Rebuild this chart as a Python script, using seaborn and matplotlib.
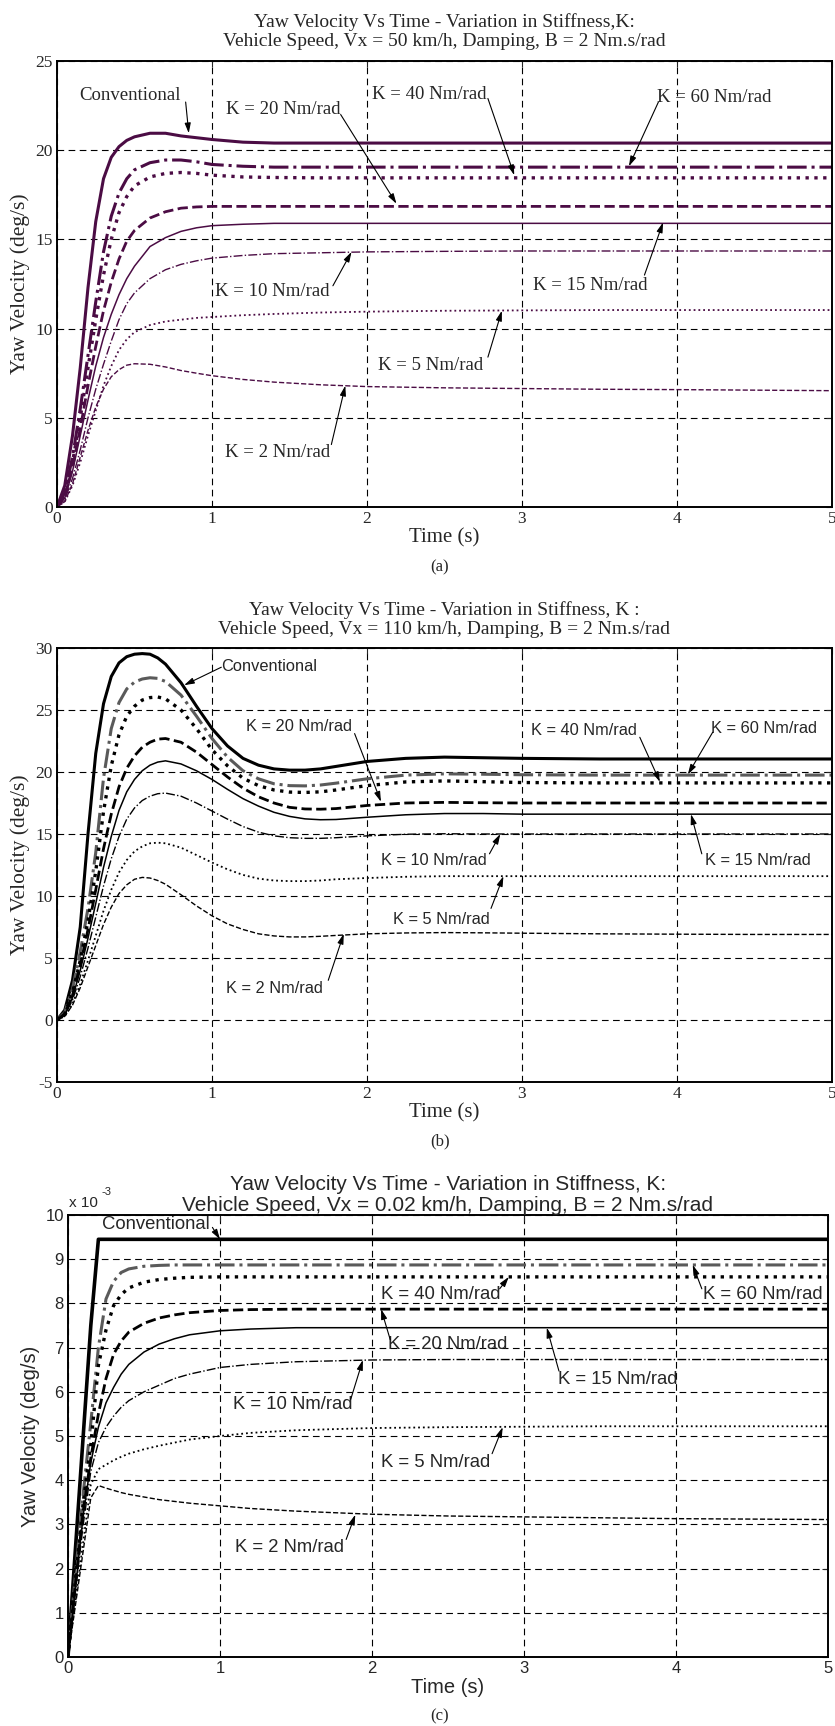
import matplotlib
matplotlib.use('Agg')
import matplotlib.pyplot as plt
import seaborn as sns

sns.set_style('white')
plt.rcParams['font.family'] = ['Liberation Serif', 'DejaVu Serif']
plt.rcParams['axes.unicode_minus'] = False

# ---------------- data ----------------
names = ['Conventional', 'K = 60', 'K = 40', 'K = 20', 'K = 15', 'K = 10', 'K = 5', 'K = 2']

# (a) Vx = 50 km/h
t_a = [0, 0.05, 0.1, 0.15, 0.2, 0.25, 0.3, 0.35, 0.4, 0.45, 0.5, 0.6, 0.7, 0.8, 0.9, 1.0,
       1.2, 1.4, 1.7, 2.0, 2.5, 3.0, 3.5, 4.0, 4.5, 5.0]
a_conv = [0, 1.2, 4.0, 7.8, 12.3, 16.0, 18.4, 19.6, 20.2, 20.55, 20.75, 20.95, 20.95, 20.8, 20.7, 20.6,
          20.45, 20.4, 20.4, 20.4, 20.4, 20.4, 20.4, 20.4, 20.4, 20.4]
a_k60 = [0, 0.8, 2.8, 5.5, 8.5, 11.5, 14.3, 16.3, 17.6, 18.4, 18.9, 19.3, 19.45, 19.45, 19.35, 19.2,
         19.1, 19.05, 19.05, 19.05, 19.05, 19.05, 19.05, 19.05, 19.05, 19.05]
a_k40 = [0, 0.7, 2.5, 5.0, 7.8, 10.5, 13.0, 15.0, 16.5, 17.4, 18.0, 18.5, 18.7, 18.75, 18.7, 18.6,
         18.5, 18.47, 18.45, 18.45, 18.45, 18.45, 18.45, 18.45, 18.45, 18.45]
a_k20 = [0, 0.6, 2.2, 4.4, 6.8, 9.0, 11.0, 12.6, 13.9, 14.9, 15.5, 16.2, 16.55, 16.75, 16.82, 16.85,
         16.85, 16.85, 16.85, 16.85, 16.85, 16.85, 16.85, 16.85, 16.85, 16.85]
a_k15 = [0, 0.5, 2.0, 4.0, 6.0, 7.9, 9.5, 10.8, 11.9, 12.8, 13.5, 14.6, 15.1, 15.45, 15.65, 15.77,
         15.85, 15.9, 15.9, 15.9, 15.9, 15.9, 15.9, 15.9, 15.9, 15.9]
a_k10 = [0, 0.4, 1.6, 3.2, 5.0, 6.6, 8.0, 9.3, 10.5, 11.4, 12.0, 12.8, 13.3, 13.6, 13.8, 13.95,
         14.1, 14.2, 14.25, 14.3, 14.33, 14.35, 14.35, 14.35, 14.35, 14.35]
a_k5 = [0, 0.3, 1.2, 2.5, 4.0, 5.4, 6.8, 7.9, 8.8, 9.4, 9.8, 10.2, 10.4, 10.5, 10.6, 10.65,
        10.75, 10.82, 10.9, 10.95, 11.0, 11.02, 11.04, 11.04, 11.04, 11.04]
a_k2 = [0, 0.3, 1.3, 2.8, 4.3, 5.6, 6.6, 7.3, 7.7, 7.95, 8.03, 8.0, 7.85, 7.65, 7.5, 7.36,
        7.15, 7.0, 6.85, 6.75, 6.68, 6.64, 6.6, 6.58, 6.55, 6.52]

# (b) Vx = 110 km/h
t_b = [0, 0.05, 0.1, 0.15, 0.2, 0.25, 0.3, 0.35, 0.4, 0.45, 0.5, 0.55, 0.6, 0.65, 0.7, 0.8, 0.9,
       1.0, 1.1, 1.2, 1.3, 1.4, 1.5, 1.6, 1.7, 1.8, 2.0, 2.25, 2.5, 2.75, 3.0, 3.5, 4.0, 4.5, 5.0]
b_conv = [0, 0.8, 3.2, 7.5, 15.0, 21.5, 25.5, 27.7, 28.8, 29.3, 29.5, 29.55, 29.5, 29.2, 28.7, 27.2, 25.3,
          23.5, 22.1, 21.1, 20.55, 20.25, 20.15, 20.15, 20.25, 20.45, 20.85, 21.1, 21.2, 21.15, 21.1,
          21.05, 21.05, 21.05, 21.05]
b_k60 = [0, 0.6, 2.5, 5.5, 9.0, 13.5, 19.5, 23.5, 25.6, 26.7, 27.25, 27.5, 27.6, 27.55, 27.3, 26.2, 24.5,
         22.7, 21.2, 20.1, 19.45, 19.05, 18.9, 18.88, 18.95, 19.1, 19.45, 19.75, 19.85, 19.82, 19.78,
         19.75, 19.75, 19.75, 19.75]
b_k40 = [0, 0.5, 2.2, 4.8, 8.0, 12.0, 16.8, 20.5, 23.0, 24.5, 25.3, 25.8, 26.0, 26.05, 25.9, 25.0, 23.5,
         21.8, 20.5, 19.5, 18.9, 18.55, 18.38, 18.35, 18.4, 18.55, 18.9, 19.2, 19.28, 19.22, 19.15,
         19.12, 19.12, 19.12, 19.12]
b_k20 = [0, 0.5, 2.0, 4.4, 7.3, 10.5, 13.8, 16.6, 18.8, 20.3, 21.3, 22.0, 22.4, 22.65, 22.7, 22.4, 21.6,
         20.6, 19.6, 18.7, 18.0, 17.5, 17.15, 17.02, 17.0, 17.05, 17.3, 17.5, 17.55, 17.52, 17.5,
         17.5, 17.5, 17.5, 17.5]
b_k15 = [0, 0.4, 1.8, 4.0, 6.6, 9.4, 12.3, 14.8, 16.9, 18.4, 19.4, 20.1, 20.55, 20.8, 20.9, 20.65, 20.1,
         19.4, 18.6, 17.85, 17.25, 16.75, 16.42, 16.22, 16.15, 16.17, 16.35, 16.55, 16.65, 16.65, 16.6,
         16.6, 16.6, 16.6, 16.6]
b_k10 = [0, 0.4, 1.6, 3.5, 5.8, 8.3, 10.8, 13.0, 14.8, 16.2, 17.1, 17.7, 18.05, 18.25, 18.3, 18.05, 17.5,
         16.85, 16.2, 15.6, 15.15, 14.85, 14.7, 14.65, 14.65, 14.7, 14.85, 14.98, 15.02, 15.0, 15.0,
         15.0, 15.0, 15.0, 15.0]
b_k5 = [0, 0.3, 1.3, 2.9, 4.8, 6.8, 8.8, 10.5, 11.9, 12.9, 13.6, 14.0, 14.25, 14.3, 14.25, 13.9, 13.3,
        12.7, 12.15, 11.7, 11.4, 11.25, 11.2, 11.2, 11.25, 11.35, 11.45, 11.55, 11.6, 11.6, 11.6,
        11.6, 11.6, 11.6, 11.6]
b_k2 = [0, 0.3, 1.2, 2.6, 4.3, 6.0, 7.7, 9.1, 10.2, 10.9, 11.35, 11.5, 11.45, 11.25, 10.95, 10.1, 9.2,
        8.4, 7.75, 7.3, 6.95, 6.78, 6.7, 6.7, 6.75, 6.82, 6.95, 7.02, 7.05, 7.03, 7.0,
        6.95, 6.92, 6.9, 6.9]

# (c) Vx = 0.02 km/h  (values in 1e-3 deg/s)
t_c = [0, 0.05, 0.1, 0.15, 0.2, 0.25, 0.3, 0.35, 0.4, 0.5, 0.6, 0.7, 0.8, 1.0, 1.2, 1.5,
       2.0, 2.5, 3.0, 3.5, 4.0, 4.5, 5.0]
c_conv = [0, 2.5, 5.0, 7.5, 9.45, 9.45, 9.45, 9.45, 9.45, 9.45, 9.45, 9.45, 9.45, 9.45, 9.45, 9.45,
          9.45, 9.45, 9.45, 9.45, 9.45, 9.45, 9.45]
c_k60 = [0, 1.9, 3.7, 5.3, 7.0, 8.1, 8.5, 8.7, 8.78, 8.84, 8.86, 8.87, 8.87, 8.87, 8.87, 8.87,
         8.87, 8.87, 8.87, 8.87, 8.87, 8.87, 8.87]
c_k40 = [0, 1.8, 3.5, 4.8, 6.6, 7.4, 7.95, 8.2, 8.35, 8.48, 8.54, 8.57, 8.59, 8.6, 8.6, 8.6,
         8.6, 8.6, 8.6, 8.6, 8.6, 8.6, 8.6]
c_k20 = [0, 1.7, 3.3, 4.5, 5.5, 6.3, 6.85, 7.15, 7.35, 7.55, 7.67, 7.74, 7.79, 7.84, 7.86, 7.87,
         7.87, 7.87, 7.87, 7.87, 7.87, 7.87, 7.87]
c_k15 = [0, 1.6, 3.2, 4.4, 5.2, 5.75, 6.1, 6.4, 6.62, 6.9, 7.08, 7.2, 7.29, 7.38, 7.42, 7.45,
         7.45, 7.45, 7.45, 7.45, 7.45, 7.45, 7.45]
c_k10 = [0, 1.5, 3.0, 4.2, 4.85, 5.2, 5.45, 5.65, 5.8, 6.0, 6.15, 6.3, 6.4, 6.55, 6.62, 6.68,
         6.72, 6.73, 6.73, 6.73, 6.73, 6.73, 6.73]
c_k5 = [0, 1.3, 2.6, 3.9, 4.25, 4.35, 4.45, 4.53, 4.6, 4.7, 4.78, 4.85, 4.92, 5.0, 5.07, 5.13,
        5.18, 5.2, 5.21, 5.22, 5.22, 5.22, 5.22]
c_k2 = [0, 1.2, 2.4, 3.6, 3.88, 3.82, 3.77, 3.72, 3.68, 3.62, 3.56, 3.52, 3.48, 3.42, 3.36, 3.3,
        3.23, 3.19, 3.17, 3.15, 3.13, 3.12, 3.11]

# annotations: label, text (t, v), arrow tail, arrow head
notes_a = [('Conventional', (0.47, 23.05), (0.83, 22.7), (0.85, 20.95)),
           ('K = 20 Nm/rad', (1.46, 22.3), (1.83, 22.0), (2.19, 17.0)),
           ('K = 40 Nm/rad', (2.40, 23.1), (2.78, 22.9), (2.95, 18.6)),
           ('K = 60 Nm/rad', (4.24, 22.95), (3.88, 22.7), (3.69, 19.1)),
           ('K = 15 Nm/rad', (3.44, 12.4), (3.79, 13.0), (3.91, 15.95)),
           ('K = 10 Nm/rad', (1.39, 12.1), (1.78, 12.4), (1.90, 14.3)),
           ('K = 5 Nm/rad', (2.41, 7.95), (2.78, 8.4), (2.87, 11.0)),
           ('K = 2 Nm/rad', (1.42, 3.05), (1.77, 3.5), (1.86, 6.8))]
notes_b = [('Conventional', (1.37, 28.5), (1.06, 28.45), (0.82, 27.0)),
           ('K = 20 Nm/rad', (1.56, 23.65), (1.92, 23.1), (2.09, 17.6)),
           ('K = 40 Nm/rad', (3.40, 23.35), (3.76, 22.8), (3.89, 19.2)),
           ('K = 60 Nm/rad', (4.56, 23.5), (4.23, 23.2), (4.07, 19.8)),
           ('K = 10 Nm/rad', (2.43, 12.85), (2.79, 13.4), (2.86, 15.0)),
           ('K = 15 Nm/rad', (4.52, 12.85), (4.16, 13.4), (4.09, 16.6)),
           ('K = 5 Nm/rad', (2.48, 8.1), (2.80, 9.0), (2.88, 11.6)),
           ('K = 2 Nm/rad', (1.40, 2.55), (1.75, 3.2), (1.85, 6.95))]
notes_c = [('Conventional', (0.58, 9.79), (0.95, 9.72), (1.00, 9.45)),
           ('K = 40 Nm/rad', (2.45, 8.2), (2.84, 8.33), (2.90, 8.6)),
           ('K = 60 Nm/rad', (4.57, 8.2), (4.17, 8.33), (4.11, 8.87)),
           ('K = 20 Nm/rad', (2.50, 7.06), (2.12, 7.18), (2.06, 7.87)),
           ('K = 15 Nm/rad', (3.62, 6.27), (3.23, 6.47), (3.15, 7.45)),
           ('K = 10 Nm/rad', (1.48, 5.71), (1.86, 5.83), (1.94, 6.72)),
           ('K = 5 Nm/rad', (2.42, 4.41), (2.79, 4.6), (2.86, 5.2)),
           ('K = 2 Nm/rad', (1.46, 2.47), (1.83, 2.66), (1.89, 3.22))]

title_a = 'Yaw Velocity Vs Time - Variation in Stiffness,K:\nVehicle Speed, Vx = 50 km/h, Damping, B = 2 Nm.s/rad'
title_b = 'Yaw Velocity Vs Time - Variation in Stiffness, K :\nVehicle Speed, Vx = 110 km/h, Damping, B = 2 Nm.s/rad'
title_c = 'Yaw Velocity Vs Time - Variation in Stiffness, K:\nVehicle Speed, Vx = 0.02 km/h, Damping, B = 2 Nm.s/rad'

# line style of each curve (same order as names)
styles = [('-', 2.2), ('-.', 2.2), (':', 2.4), ('--', 2.0), ('-', 1.1), ('-.', 1.0), (':', 1.3), ('--', 1.0)]

PURPLE = '#4b0c44'
GRAY = '#5a5a5a'

W, H = 835, 1726
fig = plt.figure(figsize=(W / 100, H / 100), dpi=100)


def box(l, t, r, b):
    return [l / W, 1 - b / H, (r - l) / W, (b - t) / H]


def draw(ax, t, curves, colors, notes, title, ylim, yticks, font, sizes, pad):
    fs_tick, fs_note, fs_title, fs_xlab, fs_ylab = sizes
    for vals, col, (ls, lw) in zip(curves, colors, styles):
        sns.lineplot(x=t, y=vals, ax=ax, color=col, linestyle=ls, linewidth=lw)
    ax.set_xlim(0, 5)
    ax.set_ylim(*ylim)
    ax.set_xticks(range(6))
    ax.set_yticks(yticks)
    ax.grid(True, color='black', linestyle=(0, (6, 4)), linewidth=0.8)
    for s in ax.spines.values():
        s.set_color('black')
        s.set_linewidth(1.4)
    ax.tick_params(direction='in', top=True, right=True, length=4, width=0.8,
                   labelsize=fs_tick, pad=3)
    for lab in ax.get_xticklabels() + ax.get_yticklabels():
        lab.set_family(font)
    ax.set_xlabel('Time (s)', family=font, fontsize=fs_xlab, labelpad=1)
    ax.set_ylabel('Yaw Velocity (deg/s)', family=font, fontsize=fs_ylab, labelpad=4)
    ax.set_title(title, family=font, fontsize=fs_title, pad=pad, linespacing=1.15)
    for lab, txt, tail, head in notes:
        ax.text(txt[0], txt[1], lab, ha='center', va='center', family=font, fontsize=fs_note)
        ax.annotate('', xy=head, xytext=tail,
                    arrowprops=dict(arrowstyle='-|>,head_length=0.6,head_width=0.18',
                                    color='black', lw=0.8, shrinkA=0, shrinkB=0, mutation_scale=10))


SERIF = ['Liberation Serif', 'DejaVu Serif']
SANS = ['Liberation Sans', 'DejaVu Sans']

ax_a = fig.add_axes(box(57, 61, 832, 507))
draw(ax_a, t_a, [a_conv, a_k60, a_k40, a_k20, a_k15, a_k10, a_k5, a_k2], [PURPLE] * 8,
     notes_a, title_a, (0, 25), range(0, 26, 5), SERIF, (12.5, 13.5, 14, 15, 15.5), 11)

ax_b = fig.add_axes(box(57, 648, 832, 1082))
cols_b = ['black', GRAY] + ['black'] * 6
draw(ax_b, t_b, [b_conv, b_k60, b_k40, b_k20, b_k15, b_k10, b_k5, b_k2], cols_b,
     notes_b, title_b, (-5, 30), range(-5, 31, 5), SERIF, (12.5, 11.8, 14, 15, 15.5), 10)
# notes in (b) are sans
for tx in ax_b.texts:
    tx.set_family(SANS)

ax_c = fig.add_axes(box(68, 1215, 828, 1657))
draw(ax_c, t_c, [c_conv, c_k60, c_k40, c_k20, c_k15, c_k10, c_k5, c_k2], cols_b,
     notes_c, title_c, (0, 10), range(0, 11), SANS, (12, 13.3, 15, 14.5, 14.5), 3)
ax_c.lines[0].set_linewidth(2.6)

fig.text(69 / W, 1 - 1203 / H, 'x 10', family=SANS, fontsize=11, va='center', ha='left')
fig.text(101 / W, 1 - 1192 / H, '-3', family=SANS, fontsize=8, va='center', ha='left')

for lab, y in [('(a)', 567), ('(b)', 1141), ('(c)', 1716)]:
    fig.text(440 / W, 1 - y / H, lab, family=SERIF, fontsize=12, ha='center', va='center')

fig.savefig('out.png', dpi=100)
